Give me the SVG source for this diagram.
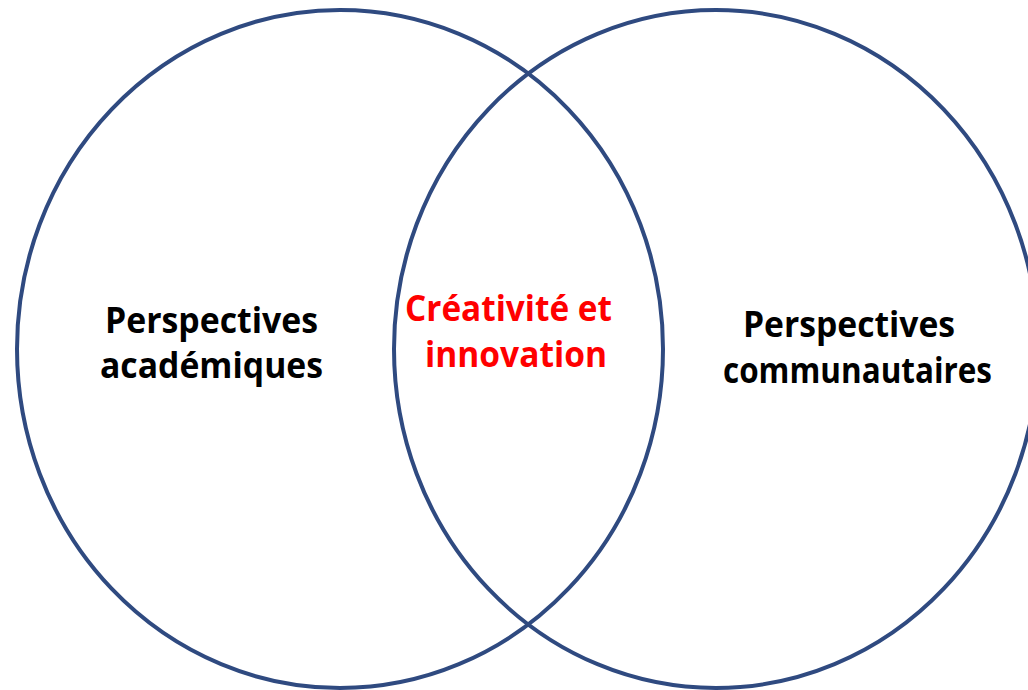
<svg xmlns="http://www.w3.org/2000/svg" width="1028" height="690" viewBox="0 0 1028 690">
<style>
.ring{fill:none;stroke:#2F4A80;stroke-width:4}
.t{font-family:"Open Sans","Noto Sans","Liberation Sans",sans-serif;font-weight:700;font-size:36px;fill:#000}
.r{fill:#FF0000}
</style>
<rect width="1028" height="690" fill="#fff"/>
<g id="academic">
<ellipse class="ring" cx="340" cy="349" rx="323" ry="339"/>
<text class="t" x="105" y="333" textLength="213" lengthAdjust="spacingAndGlyphs">Perspectives</text>
<text class="t" x="100" y="378" textLength="223" lengthAdjust="spacingAndGlyphs">académiques</text>
</g>
<g id="community">
<ellipse class="ring" cx="716" cy="349" rx="322" ry="339"/>
<text class="t" x="743" y="337" textLength="212" lengthAdjust="spacingAndGlyphs">Perspectives</text>
<text class="t" x="723" y="383" textLength="269" lengthAdjust="spacingAndGlyphs">communautaires</text>
</g>
<g id="overlap">
<text class="t r" x="405" y="321" textLength="207" lengthAdjust="spacingAndGlyphs">Créativité et</text>
<text class="t r" x="425" y="367" textLength="182" lengthAdjust="spacingAndGlyphs">innovation</text>
</g>
<g id="connectors"></g>
</svg>
